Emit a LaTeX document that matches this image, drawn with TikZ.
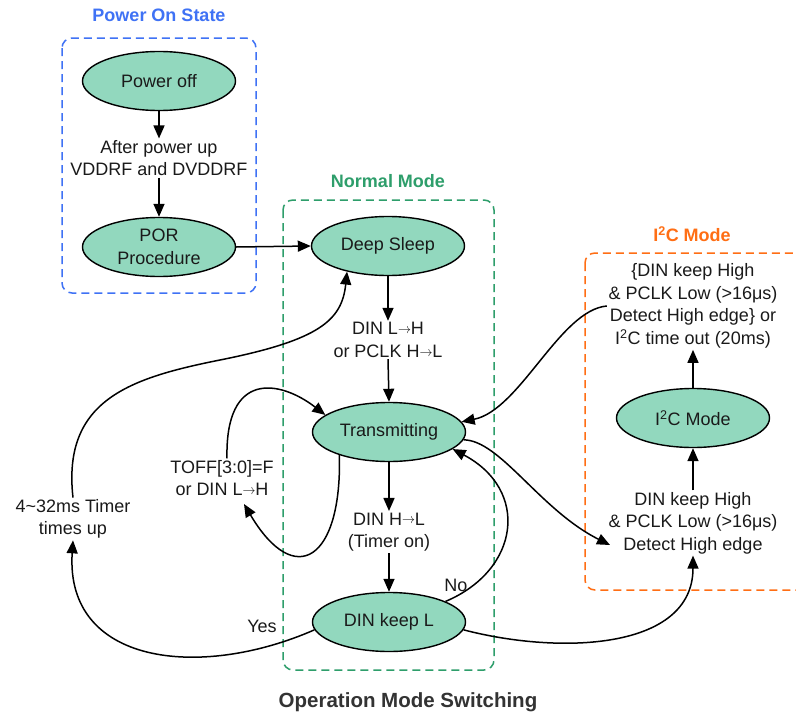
\documentclass[tikz,border=0pt]{standalone}
\usepackage{fontspec}
\setmainfont{Liberation Sans}
\usetikzlibrary{arrows.meta,shapes.geometric}
\definecolor{mint}{HTML}{92D8BE}
\definecolor{pblue}{HTML}{3F72F5}
\definecolor{pgreen}{HTML}{2E9E6B}
\definecolor{porange}{HTML}{FF6E14}
\definecolor{ink}{HTML}{1A1A1A}
\definecolor{ttl}{HTML}{333333}
\newcommand{\smarr}{\raisebox{0.12ex}{\scalebox{0.75}[0.8]{$\rightarrow$}}}
\begin{document}
\begin{tikzpicture}[x=1pt,y=-1pt,
  state/.style={ellipse, draw=black, line width=1.4pt, fill=mint, minimum width=153pt,
    minimum height=59pt, inner sep=0pt, align=center, text=ink,
    font=\fontsize{18}{23}\selectfont},
  lbl/.style={align=center, inner sep=1.5pt, text=ink, font=\fontsize{18}{22.5}\selectfont},
  ttlnode/.style={font=\bfseries\fontsize{18}{22}\selectfont},
  arr/.style={-{Triangle[length=13pt,width=11pt]}, line width=1.5pt},
  modebox/.style={dash pattern=on 8pt off 5pt, line width=1.5pt, rounded corners=10pt}]
\clip (0,0) rectangle (796,715);
\fill[white] (0,0) rectangle (796,715);
% boxes
\draw[modebox, pblue] (62,38) rectangle (256,293);
\draw[modebox, pgreen] (283,200) rectangle (494,670);
\draw[modebox, porange] (585,253) rectangle (812,590);
% titles
\node[ttlnode, text=pblue] (t1) at (159,15) {Power On State};
\node[ttlnode, text=pgreen] (t2) at (388,181) {Normal Mode};
\node[ttlnode, text=porange] (t3) at (692,234) {I\textsuperscript{2}C Mode};
\node[font=\bfseries\fontsize{20.5}{22}\selectfont, text=ttl] (t4) at (408,702) {Operation Mode Switching};
% states
\node[state] (pwr) at (159,81) {Power off};
\node[state] (por) at (159,247) {POR\\Procedure};
\node[state] (deep) at (388,246) {Deep Sleep};
\node[state] (trans) at (389,432) {Transmitting};
\node[state] (keep) at (389,622) {DIN keep L};
\node[state] (i2c) at (693,418) {I\textsuperscript{2}C Mode};
% labels
\node[lbl] (l1) at (159,158) {After power up\\VDDRF and DVDDRF};
\node[lbl] (l2) at (388,340) {DIN L\smarr H\\or PCLK H\smarr L};
\node[lbl] (l3) at (389,532) {DIN H\smarr L\\(Timer on)};
\node[lbl] (l4) at (693,306) {\{DIN keep High\\\& PCLK Low (>16μs)\\Detect High edge\} or\\I\textsuperscript{2}C time out (20ms)};
\node[lbl] (l5) at (693,523) {DIN keep High\\\& PCLK Low (>16μs)\\Detect High edge};
\node[lbl] (l6) at (222,478) {TOFF[3:0]=F\\or DIN L\smarr H};
\node[lbl] (l7) at (73,519) {4\textasciitilde 32ms Timer\\times up};
\node[lbl] (yes) at (262,626) {Yes};
\node[lbl] (no) at (456,585) {No};
\coordinate (de) at (610,545);
\coordinate (tf) at (244,504);
% straight arrows
\draw[arr] (pwr.south) -- (l1.north);
\draw[arr] (l1.south) -- (por.north);
\draw[arr] (por.east) -- (deep.west);
\draw[arr] (deep.south) -- (l2.north);
\draw[arr] (l2.south) -- (trans.north);
\draw[arr] (trans.south) -- (l3.north);
\draw[arr] (l3.south) -- (keep.north);
\draw[arr] (i2c.north) -- (l4.south);
\draw[arr] (l5.north) -- (i2c.south);
% curved arrows
\draw[arr] (l4.west) .. controls (560,310) and (520,410) .. (trans.8);
\draw[arr] (trans.-6) .. controls (500,440) and (540,510) .. (de);
\draw[arr] (keep.-6) .. controls (560,655) and (693,650) .. (l5.south);
\draw[arr] (keep.20) .. controls (520,570) and (530,490) .. (trans.-15);
\draw[arr] (keep.186) .. controls (200,680) and (65,665) .. (l7.south);
\draw[arr] (l7.north) .. controls (62,400) and (130,378) .. (220,360)
   .. controls (320,340) and (342,320) .. (deep.212);
\draw[arr] (trans.205) .. controls (342,560) and (295,590) .. (tf);
\draw[arr] ([xshift=5pt]l6.north) .. controls (225,370) and (280,380) .. (trans.165);
\end{tikzpicture}
\end{document}
